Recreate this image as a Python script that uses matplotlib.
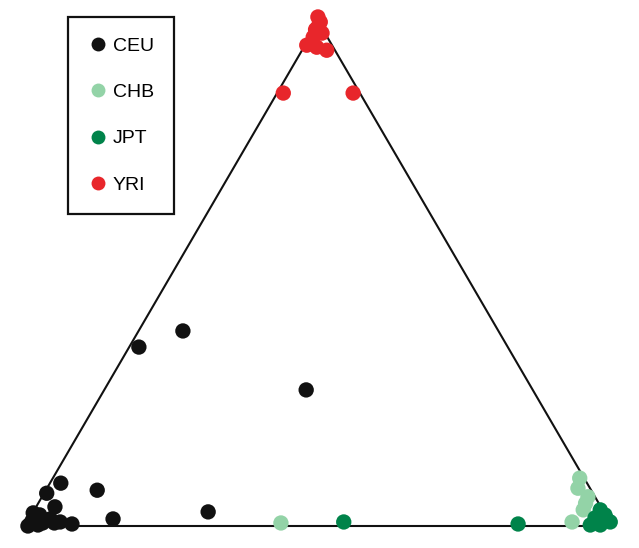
"""Ternary-style ancestry plot of CEU, CHB, JPT and YRI samples."""

import matplotlib.pyplot as plt
from matplotlib.lines import Line2D

plt.rcParams["font.family"] = ["Liberation Sans", "DejaVu Sans"]

# triangle corners in plot units: left, right, top
TRI_X = [0.0, 1.0, 0.5, 0.0]
TRI_Y = [0.0, 0.0, 1.0, 0.0]

CEU_X = [0.269, 0.194, 0.479, 0.312, 0.123, 0.150, 0.061, 0.037, 0.051,
         0.080, 0.060, 0.014, 0.030, 0.043, 0.019, 0.009, 0.005, 0.022, 0.012,
         0.025, 0.050]
CEU_Y = [0.387, 0.355, 0.270, 0.028, 0.071, 0.014, 0.085, 0.065, 0.038,
         0.004, 0.008, 0.026, 0.006, 0.014, 0.018, 0.004, 0.000, 0.002, 0.010,
         0.022, 0.006]

CHB_X = [0.436, 0.945, 0.959, 0.951, 0.932, 0.942, 0.955]
CHB_Y = [0.006, 0.095, 0.058, 0.032, 0.008, 0.075, 0.045]

JPT_X = [0.543, 0.840, 0.980, 0.997, 0.963, 0.980, 0.988, 0.971, 0.992]
JPT_Y = [0.008, 0.004, 0.032, 0.008, 0.002, 0.002, 0.022, 0.016, 0.012]

YRI_X = [0.440, 0.559, 0.499, 0.499, 0.506, 0.480, 0.497, 0.514, 0.491, 0.503, 0.495]
YRI_Y = [0.859, 0.859, 1.010, 0.990, 0.978, 0.954, 0.950, 0.944, 0.970, 1.000, 0.985]

GROUPS = ["CEU", "CHB", "JPT", "YRI"]
COLORS = {"CEU": "#111111", "CHB": "#93d3a7", "JPT": "#00834a", "YRI": "#e8262b"}


def main() -> None:
    fig = plt.figure(figsize=(6.39, 5.48), dpi=100)
    ax = fig.add_axes([0, 0, 1, 1])
    ax.set_xlim(-25 / 587, 614 / 587)
    ax.set_ylim(-22 / 504, 526 / 504)
    ax.axis("off")

    ax.plot(TRI_X, TRI_Y, color="#111111", lw=1.5, zorder=1, solid_joinstyle="miter")

    data = {
        "CEU": (CEU_X, CEU_Y),
        "CHB": (CHB_X, CHB_Y),
        "JPT": (JPT_X, JPT_Y),
        "YRI": (YRI_X, YRI_Y),
    }
    for name in GROUPS:
        xs, ys = data[name]
        ax.scatter(xs, ys, s=122, color=COLORS[name], edgecolors="none", zorder=3)

    handles = [
        Line2D([], [], marker="o", linestyle="none", markersize=10,
               markerfacecolor=COLORS[name], markeredgecolor="none", label=name)
        for name in GROUPS
    ]
    leg = ax.legend(
        handles=handles,
        loc="upper left",
        bbox_to_anchor=(68 / 639, 1 - 17 / 548),
        bbox_transform=fig.transFigure,
        fontsize=14,
        frameon=True,
        fancybox=False,
        framealpha=1,
        labelspacing=1.47,
        borderpad=1.05,
        handletextpad=0.3,
        handlelength=0.95,
        borderaxespad=0,
    )
    frame = leg.get_frame()
    frame.set_edgecolor("#111111")
    frame.set_linewidth(1.6)

    fig.savefig("out.png", dpi=100)
    plt.close(fig)


if __name__ == "__main__":
    main()
